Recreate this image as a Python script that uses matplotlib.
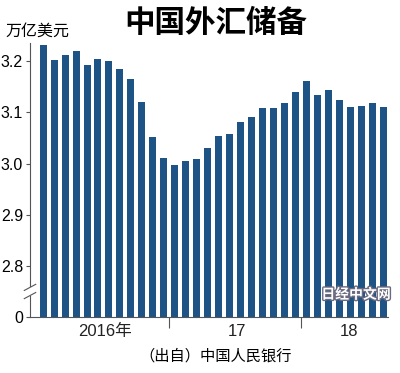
import matplotlib
matplotlib.use('Agg')
import matplotlib.pyplot as plt
import matplotlib.patheffects as pe

plt.rcParams['font.family'] = ['Liberation Sans', 'Noto Sans CJK SC', 'DejaVu Sans']

# 中国外汇储备 (万亿美元), 2016年1月 - 2018年8月
months = ['2016-%02d' % m for m in range(1, 13)] + \
         ['2017-%02d' % m for m in range(1, 13)] + \
         ['2018-%02d' % m for m in range(1, 9)]
reserves = [3.231, 3.202, 3.213, 3.220, 3.192, 3.205, 3.201, 3.185, 3.166, 3.121, 3.052, 3.011,
            2.998, 3.005, 3.009, 3.030, 3.054, 3.057, 3.081, 3.092, 3.109, 3.109, 3.119, 3.140,
            3.161, 3.134, 3.143, 3.125, 3.111, 3.112, 3.118, 3.110]
year_labels = ['2016年', '17', '18']
ytick_vals = [2.8, 2.9, 3.0, 3.1, 3.2]

base = 2.7   # 断轴: 2.7 显示为 0
fig = plt.figure(figsize=(4, 3.73), dpi=100)
ax = fig.add_axes([0.075, 0.150, 0.895, 0.735])

x = list(range(len(reserves)))
ax.bar(x, [v - base for v in reserves], bottom=base, width=0.64, color='#1d5485')

ax.set_xlim(-1.2, 31.45)
ax.set_ylim(base, 3.236)
for s in ['top', 'right']:
    ax.spines[s].set_visible(False)
ax.spines['left'].set_color('#555555')
ax.spines['bottom'].set_color('#555555')

ax.set_yticks([base] + ytick_vals)
ax.set_yticklabels(['0'] + ['%.1f' % v for v in ytick_vals], fontsize=11.5)
ax.tick_params(axis='y', length=3, width=0.8, color='#555555', pad=2)

ax.set_xticks([11.5, 23.5])
ax.set_xticklabels([])
ax.tick_params(axis='x', length=8, width=0.8, color='#555555')
for pos, lab in zip([5.6, 17.7, 27.9], year_labels):
    ax.text(pos, base - 0.014, lab, ha='center', va='top', fontsize=12, color='#222222')

# 断轴标记
tr = ax.get_yaxis_transform()
ax.add_patch(plt.Rectangle((-0.02, 2.742), 0.04, 0.016, transform=tr,
                           facecolor='white', edgecolor='none', clip_on=False, zorder=5))
for yy in [2.742, 2.758]:
    ax.plot([-0.016, 0.016], [yy - 0.006, yy + 0.006], transform=tr, color='#555555',
            lw=0.8, clip_on=False, zorder=6)

fig.text(0.54, 0.938, '中国外汇储备', ha='center', va='center', fontsize=22, fontweight='bold',
         family=['Noto Sans CJK SC'])
fig.text(0.013, 0.916, '万亿美元', ha='left', va='center', fontsize=11.5, family=['Noto Sans CJK SC'])
fig.text(0.54, 0.046, '（出自）中国人民银行', ha='center', va='center', fontsize=11,
         family=['Noto Sans CJK SC'])
t = fig.text(0.89, 0.21, '日经中文网', ha='center', va='center', fontsize=10, fontweight='bold',
             color='white', family=['Noto Sans CJK SC'])
t.set_path_effects([pe.withStroke(linewidth=2, foreground='#6a6a80')])

fig.savefig('out.png', dpi=100, facecolor='white')
